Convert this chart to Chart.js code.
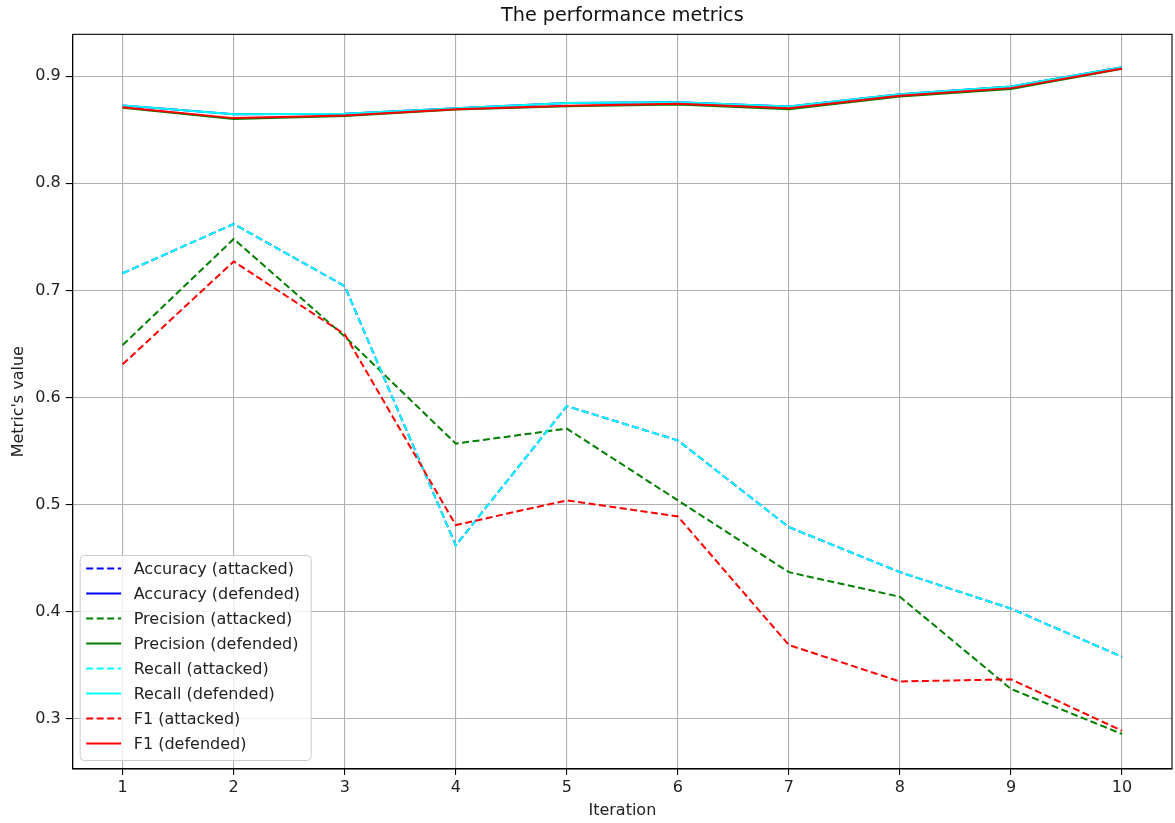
<!DOCTYPE html>
<html>
<head>
<meta charset="utf-8">
<title>The performance metrics</title>
<script src="https://cdn.jsdelivr.net/npm/chart.js@4.4.1/dist/chart.umd.min.js"></script>
<style>
    html, body { margin: 0; padding: 0; background: #fff; }
    #wrap { width: 1175px; height: 823px; }
</style>
</head>
<body>
<div id="wrap"><canvas id="metricsChart" width="1175" height="823"></canvas></div>
<script>
// Data
const iterations = [1, 2, 3, 4, 5, 6, 7, 8, 9, 10];
const yTicks = [0.3, 0.4, 0.5, 0.6, 0.7, 0.8, 0.9];

const accuracyAttacked = [0.716, 0.762, 0.704, 0.462, 0.592, 0.560, 0.479, 0.437, 0.403, 0.358];
const accuracyDefended = [0.8727, 0.8645, 0.8648, 0.870, 0.8748, 0.8757, 0.8716, 0.8832, 0.8903, 0.9084];
const precisionAttacked = [0.649, 0.748, 0.657, 0.557, 0.571, 0.504, 0.437, 0.414, 0.328, 0.286];
const precisionDefended = [0.8705, 0.860, 0.8628, 0.8688, 0.8718, 0.8736, 0.869, 0.881, 0.888, 0.9068];
const recallAttacked = [0.716, 0.762, 0.704, 0.462, 0.592, 0.560, 0.479, 0.437, 0.403, 0.358];
const recallDefended = [0.8727, 0.8645, 0.8648, 0.870, 0.8748, 0.8757, 0.8716, 0.8832, 0.8903, 0.9084];
const f1Attacked = [0.631, 0.727, 0.659, 0.481, 0.504, 0.489, 0.369, 0.335, 0.337, 0.289];
const f1Defended = [0.871, 0.8608, 0.8632, 0.869, 0.8723, 0.8741, 0.870, 0.8816, 0.8888, 0.9071];

const FONT = "'DejaVu Sans', sans-serif";
const DASH = [7, 3.5];

function series(label, values, color, dashed, idx) {
    return {
        label: label,
        data: iterations.map((it, i) => ({ x: it, y: values[i] })),
        borderColor: color,
        backgroundColor: color,
        borderWidth: 2,
        borderDash: dashed ? DASH : [],
        pointRadius: 0,
        tension: 0,
        fill: false,
        order: 10 - idx   // later series are drawn on top, as in matplotlib
    };
}

// Black frame around the plot area
const framePlugin = {
    id: 'frame',
    afterDatasetsDraw(chart) {
        const a = chart.chartArea;
        const ctx = chart.ctx;
        ctx.save();
        ctx.strokeStyle = '#000';
        ctx.lineWidth = 1.1;
        ctx.strokeRect(a.left, a.top, a.right - a.left, a.bottom - a.top);
        ctx.restore();
    }
};

// Legend drawn inside the plot, lower left
const innerLegend = {
    id: 'innerLegend',
    afterDraw(chart) {
        const ctx = chart.ctx;
        const a = chart.chartArea;
        const sets = chart.data.datasets;
        const rowH = 25;
        const boxW = 231;
        const boxH = sets.length * rowH + 5;
        const x0 = a.left + 7.5;
        const y0 = a.bottom - 8.5 - boxH;

        ctx.save();
        ctx.beginPath();
        ctx.roundRect(x0, y0, boxW, boxH, 4);
        ctx.fillStyle = 'rgba(255,255,255,0.8)';
        ctx.fill();
        ctx.strokeStyle = '#cccccc';
        ctx.lineWidth = 1;
        ctx.stroke();

        ctx.font = '16px ' + FONT;
        ctx.textBaseline = 'middle';
        ctx.textAlign = 'left';
        sets.forEach((ds, i) => {
            const cy = y0 + 13 + i * rowH;
            ctx.beginPath();
            ctx.setLineDash(ds.borderDash);
            ctx.strokeStyle = ds.borderColor;
            ctx.lineWidth = 2;
            ctx.moveTo(x0 + 6, cy);
            ctx.lineTo(x0 + 41, cy);
            ctx.stroke();
            ctx.setLineDash([]);
            ctx.fillStyle = '#222';
            ctx.fillText(ds.label, x0 + 53.5, cy + 1);
        });
        ctx.restore();
    }
};

const ctx = document.getElementById('metricsChart').getContext('2d');
const metricsChart = new Chart(ctx, {
    type: 'line',
    data: {
        datasets: [
            series('Accuracy (attacked)', accuracyAttacked, '#0000ff', true, 0),
            series('Accuracy (defended)', accuracyDefended, '#0000ff', false, 1),
            series('Precision (attacked)', precisionAttacked, '#008000', true, 2),
            series('Precision (defended)', precisionDefended, '#008000', false, 3),
            series('Recall (attacked)', recallAttacked, '#00ffff', true, 4),
            series('Recall (defended)', recallDefended, '#00ffff', false, 5),
            series('F1 (attacked)', f1Attacked, '#ff0000', true, 6),
            series('F1 (defended)', f1Defended, '#ff0000', false, 7)
        ]
    },
    options: {
        responsive: false,
        animation: false,
        layout: { padding: { left: 0, right: 3, top: 0, bottom: 0 } },
        plugins: {
            legend: { display: false },
            tooltip: { enabled: false },
            title: {
                display: true,
                fullSize: false,
                text: 'The performance metrics',
                color: '#111',
                font: { family: FONT, size: 19.2, weight: 'normal' },
                padding: { top: 4.5, bottom: 6.8 }
            }
        },
        scales: {
            x: {
                type: 'linear',
                min: 0.55,
                max: 10.45,
                afterFit(scale) { scale.height = 54; },
                ticks: {
                    stepSize: 1,
                    includeBounds: false,
                    color: '#222',
                    padding: 3,
                    font: { family: FONT, size: 16 },
                    callback: v => String(v)
                },
                grid: { color: '#b0b0b0', lineWidth: 1.1, tickLength: 6, tickColor: '#000' },
                border: { display: true, color: '#000', width: 1.1 },
                title: {
                    display: true,
                    text: 'Iteration',
                    color: '#222',
                    font: { family: FONT, size: 16 },
                    padding: { top: 0, bottom: 2.4 }
                }
            },
            y: {
                type: 'linear',
                min: 0.2533,
                max: 0.939,
                afterFit(scale) { scale.width = 72.7; },
                afterBuildTicks(scale) { scale.ticks = yTicks.map(v => ({ value: v })); },
                ticks: {
                    color: '#222',
                    padding: 5,
                    font: { family: FONT, size: 16 },
                    callback: v => v.toFixed(1)
                },
                grid: { color: '#b0b0b0', lineWidth: 1.1, tickLength: 7, tickColor: '#000' },
                border: { display: true, color: '#000', width: 1.1 },
                title: {
                    display: true,
                    text: "Metric's value",
                    color: '#222',
                    font: { family: FONT, size: 16 },
                    padding: { top: 9, bottom: 0 }
                }
            }
        }
    },
    plugins: [framePlugin, innerLegend]
});
</script>
</body>
</html>
